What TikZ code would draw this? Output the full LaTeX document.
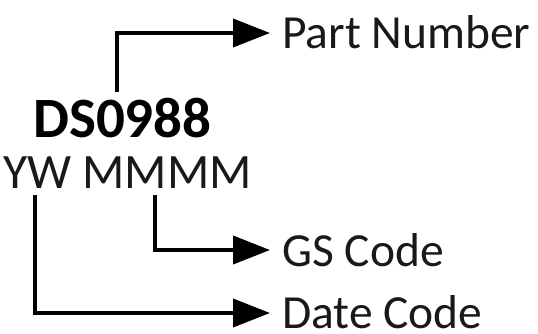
\documentclass[tikz,border=0pt]{standalone}
\usepackage{fontspec}
\setmainfont{Carlito}
\usetikzlibrary{arrows.meta}
\begin{document}
\begin{tikzpicture}[x=1pt,y=1pt,
  lbl/.style={anchor=base west,inner sep=0pt,font=\fontsize{47.5}{50}\selectfont,text=black!90},
  conn/.style={line width=4pt,-{Triangle[length=37pt,width=28pt]}}]
\useasboundingbox (0,0) rectangle (538,333);
\node[lbl,font=\fontsize{57}{60}\selectfont\bfseries,text=black] (ds) at (33,196) {DS0988};
\node[lbl,font=\fontsize{49.5}{52}\selectfont] (yw) at (3,145) {YW MMMM};
\node[lbl] (pn) at (282,285) {Part Number};
\node[lbl] (gs) at (282,67) {GS Code};
\node[lbl] (dc) at (282,4.5) {Date Code};
\coordinate (s1) at (117,241);
\coordinate (s2) at (155,138);
\coordinate (s3) at (35,138);
\coordinate (e1) at ([xshift=-12pt,yshift=15pt]pn.base west);
\coordinate (e2) at ([xshift=-12pt,yshift=16pt]gs.base west);
\coordinate (e3) at ([xshift=-12pt,yshift=15.5pt]dc.base west);
\draw[conn] (s1) |- (e1);
\draw[conn] (s2) |- (e2);
\draw[conn] (s3) |- (e3);
\end{tikzpicture}
\end{document}
